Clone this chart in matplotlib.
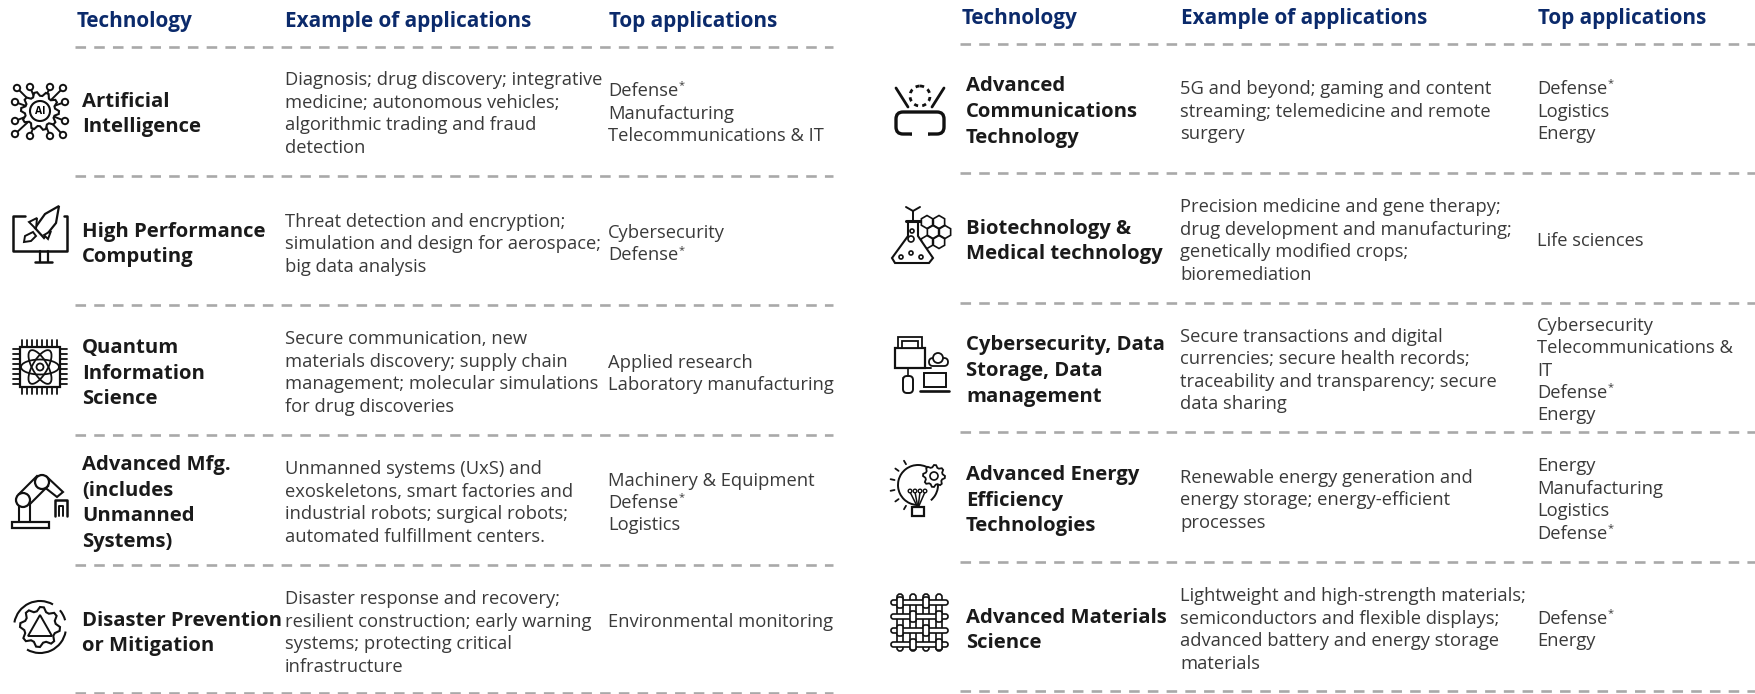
#!/usr/bin/env python3
# Two side-by-side technology tables with line icons. Everything is laid out
# in reference pixels (axes spans the whole figure, y points down).

import numpy as np
import matplotlib
matplotlib.use("Agg")
import matplotlib.pyplot as plt
from matplotlib.patches import Circle, Rectangle, FancyBboxPatch, Polygon, Arc

W, H = 1756, 694
NAVY = "#0b2a6b"
BLACK = "#1a1a1a"
BODY = "#3a3a3a"
DASH = "#a9a9a9"
FONT = "Open Sans"

HEADERS = ["Technology", "Example of applications", "Top applications"]

LEFT_TECH = [
    ["Artificial", "Intelligence"],
    ["High Performance", "Computing"],
    ["Quantum", "Information", "Science"],
    ["Advanced Mfg.", "(includes", "Unmanned", "Systems)"],
    ["Disaster Prevention", "or Mitigation"],
]
LEFT_APPS = [
    ["Diagnosis; drug discovery; integrative", "medicine; autonomous vehicles;",
     "algorithmic trading and fraud", "detection"],
    ["Threat detection and encryption;", "simulation and design for aerospace;",
     "big data analysis"],
    ["Secure communication, new", "materials discovery; supply chain",
     "management; molecular simulations", "for drug discoveries"],
    ["Unmanned systems (UxS) and", "exoskeletons, smart factories and",
     "industrial robots; surgical robots;", "automated fulfillment centers."],
    ["Disaster response and recovery;", "resilient construction; early warning",
     "systems; protecting critical", "infrastructure"],
]
LEFT_TOP = [
    ["Defense*", "Manufacturing", "Telecommunications & IT"],
    ["Cybersecurity", "Defense*"],
    ["Applied research", "Laboratory manufacturing"],
    ["Machinery & Equipment", "Defense*", "Logistics"],
    ["Environmental monitoring"],
]
LEFT_CENTERS = [112, 242, 371, 501, 631]
LEFT_TOP_CENTERS = [111.5, 242, 372, 501, 620]
LEFT_RULES = [46.5, 176, 305, 435, 564.5, 693]

RIGHT_TECH = [
    ["Advanced", "Communications", "Technology"],
    ["Biotechnology &", "Medical technology"],
    ["Cybersecurity, Data", "Storage, Data", "management"],
    ["Advanced Energy", "Efficiency", "Technologies"],
    ["Advanced Materials", "Science"],
]
RIGHT_APPS = [
    ["5G and beyond; gaming and content", "streaming; telemedicine and remote",
     "surgery"],
    ["Precision medicine and gene therapy;", "drug development and manufacturing;",
     "genetically modified crops;", "bioremediation"],
    ["Secure transactions and digital", "currencies; secure health records;",
     "traceability and transparency; secure", "data sharing"],
    ["Renewable energy generation and", "energy storage; energy-efficient",
     "processes"],
    ["Lightweight and high-strength materials;", "semiconductors and flexible displays;",
     "advanced battery and energy storage", "materials"],
]
RIGHT_TOP = [
    ["Defense*", "Logistics", "Energy"],
    ["Life sciences"],
    ["Cybersecurity", "Telecommunications &", "IT", "Defense*", "Energy"],
    ["Energy", "Manufacturing", "Logistics", "Defense*"],
    ["Defense*", "Energy"],
]
RIGHT_CENTERS = [109.5, 239, 368.5, 498, 628]
RIGHT_RULES = [43.5, 173, 303, 432, 562, 691]

fig = plt.figure(figsize=(W / 100, H / 100), dpi=100)
ax = fig.add_axes([0, 0, 1, 1])
ax.set_xlim(0, W)
ax.set_ylim(H, 0)
ax.axis("off")


def block(x, yc, lines, pitch, size, color, weight):
    y0 = yc - pitch * (len(lines) - 1) / 2
    renderer = fig.canvas.get_renderer()
    for i, line in enumerate(lines):
        star = line.endswith("*")
        txt = line[:-1] if star else line
        t = ax.text(x, y0 + i * pitch, txt, ha="left", va="center_baseline",
                    fontsize=size, color=color, fontweight=weight, family=FONT)
        if star:
            end = t.get_window_extent(renderer).x1
            ax.text(end, y0 + i * pitch - 3, "*", ha="left", va="center",
                    fontsize=size * 0.6, color=color, fontweight=weight, family=FONT)


def rules(x0, x1, ys):
    for y in ys:
        ax.plot([x0, x1], [y, y], color=DASH, lw=1.9, dashes=(4.0, 3.1),
                dash_capstyle="butt")


def line(pts, lw=1.6):
    xs, ys = zip(*pts)
    ax.plot(xs, ys, color="#111111", lw=lw, solid_capstyle="round")


def ring(x, y, r, lw=1.5, fill="white", z=3):
    ax.add_patch(Circle((x, y), r, fc=fill, ec="#111111", lw=lw, zorder=z))


def box(x, y, w, h, lw=1.5, pad=0.0, z=3):
    if pad:
        ax.add_patch(FancyBboxPatch((x, y), w, h, boxstyle=f"round,pad=0,rounding_size={pad}",
                                    fc="white", ec="#111111", lw=lw, zorder=z))
    else:
        ax.add_patch(Rectangle((x, y), w, h, fc="white", ec="#111111", lw=lw, zorder=z))


def poly(pts, lw=1.5, fill="white", z=3):
    ax.add_patch(Polygon(pts, closed=True, fc=fill, ec="#111111", lw=lw, zorder=z))


def gear(cx, cy, r, teeth=8, lw=1.5):
    a = np.linspace(0, 2 * np.pi, teeth * 4, endpoint=False)
    rr = np.where(np.arange(teeth * 4) % 4 < 2, r, r * 0.8)
    poly(list(zip(cx + rr * np.cos(a), cy + rr * np.sin(a))), lw=lw)


def icon_ai(cx, cy):
    nodes = [(-23, -23), (-10, -24), (10, -24), (23, -23), (-25, -9), (25, -9),
             (-25, 10), (25, 10), (-25, 23), (-10, 25), (10, 25), (23, 24)]
    for dx, dy in nodes:
        line([(cx + dx * 0.5, cy + dy * 0.5), (cx + dx * 0.8, cy + dy * 0.8),
              (cx + dx * 0.93, cy + dy * 0.93)], lw=1.4)
        ring(cx + dx, cy + dy, 3.2, lw=1.4)
    gear(cx, cy, 19, teeth=10)
    ring(cx, cy, 10, lw=1.5)
    ax.text(cx, cy, "AI", ha="center", va="center", fontsize=7.5, fontweight="bold", family=FONT, zorder=5)


def icon_rocket(x, y):
    line([(x + 14, y + 11), (x + 2, y + 11), (x + 2, y + 46), (x + 56, y + 46), (x + 56, y + 11), (x + 53, y + 11)], lw=1.8)
    line([(x + 29, y + 46), (x + 29, y + 57)], lw=1.6)
    line([(x + 37, y + 46), (x + 37, y + 57)], lw=1.6)
    line([(x + 24, y + 57), (x + 41, y + 57)], lw=1.8)
    poly([(x + 48, y + 1), (x + 45, y + 18), (x + 33, y + 33), (x + 24, y + 23), (x + 34, y + 9)], lw=1.6)
    poly([(x + 26, y + 13), (x + 18, y + 17), (x + 25, y + 24)], lw=1.4)
    poly([(x + 40, y + 26), (x + 37, y + 34), (x + 33, y + 30)], lw=1.4)
    poly([(x + 22, y + 27), (x + 14, y + 31), (x + 13, y + 37), (x + 20, y + 36), (x + 25, y + 31)], lw=1.4)


def icon_chip(x, y):
    box(x + 7, y + 7, 40, 40, lw=1.6)
    for i in np.arange(2, 41, 5):
        line([(x + 7 + i, y), (x + 7 + i, y + 7)], lw=1.3)
        line([(x + 7 + i, y + 47), (x + 7 + i, y + 54)], lw=1.3)
        line([(x, y + 7 + i), (x + 7, y + 7 + i)], lw=1.3)
        line([(x + 47, y + 7 + i), (x + 54, y + 7 + i)], lw=1.3)
    for ang in (0, 60, 120):
        ax.add_patch(Arc((x + 27, y + 27), 38, 15, angle=ang, color="#111111", lw=1.3, zorder=4))
    ring(x + 27, y + 27, 3.5, lw=1.3, z=5)


def icon_robot(x, y):
    box(x + 1, y + 50, 37, 6, lw=1.6)
    line([(x + 8, y + 50), (x + 8, y + 29)], lw=1.5)
    line([(x + 19, y + 50), (x + 19, y + 29)], lw=1.5)
    poly([(x + 8, y + 22), (x + 26, y + 4), (x + 37, y + 14), (x + 19, y + 32)], lw=1.5)
    ring(x + 12, y + 28, 7, lw=1.6, z=4)
    ring(x + 31, y + 10, 7, lw=1.6, z=4)
    poly([(x + 36, y + 5), (x + 52, y + 20), (x + 46, y + 25), (x + 32, y + 14)], lw=1.5, z=2)
    line([(x + 44, y + 44), (x + 44, y + 28), (x + 56, y + 28), (x + 56, y + 44)], lw=1.8)
    line([(x + 48, y + 44), (x + 48, y + 34), (x + 52, y + 34), (x + 52, y + 44)], lw=1.4)


def icon_disaster(cx, cy):
    ax.add_patch(Arc((cx, cy), 52, 52, theta1=190, theta2=300, color="#111111", lw=1.5))
    ax.add_patch(Arc((cx, cy), 52, 52, theta1=10, theta2=120, color="#111111", lw=1.5))
    ax.add_patch(Arc((cx, cy), 52, 52, theta1=-40, theta2=-15, color="#111111", lw=1.5))
    gear(cx, cy, 20, teeth=8)
    poly([(cx, cy - 12), (cx + 12, cy + 9), (cx - 12, cy + 9)], lw=1.4)
    line([(cx, cy - 5), (cx, cy + 3)], lw=1.7)
    line([(cx, cy + 6), (cx, cy + 6.5)], lw=1.7)


def icon_vr(cx, cy):
    box(cx - 24, cy + 2, 48, 22, lw=2.4, pad=7)
    box(cx - 8, cy + 20, 16, 6, lw=0, z=4)
    line([(cx - 9, cy + 24), (cx, cy + 20), (cx + 9, cy + 24)], lw=2.2)
    line([(cx + 12, cy + 7), (cx + 16, cy + 10), (cx + 14, cy + 14)], lw=1.8)
    ax.add_patch(Circle((cx, cy - 14), 10, fc="none", ec="#111111", lw=2.0, ls=(0, (1.5, 1.5))))
    line([(cx - 24, cy - 22), (cx - 12, cy - 3)], lw=2.0)
    line([(cx + 24, cy - 22), (cx + 12, cy - 3)], lw=2.0)


def icon_flask(x, y):
    for i, j in [(0, 0), (12, 0), (6, 10), (18, 10), (0, 20), (12, 20)]:
        a = np.linspace(0, 2 * np.pi, 6, endpoint=False) + np.pi / 6
        poly(list(zip(x + 36 + i + 6.5 * np.cos(a), y + 16 + j + 6.5 * np.sin(a))), lw=1.2, fill="none")
    poly([(x + 17, y + 16), (x + 27, y + 16), (x + 27, y + 30), (x + 42, y + 52), (x + 38, y + 57),
          (x + 4, y + 57), (x + 1, y + 52), (x + 17, y + 30)], lw=1.5, z=4)
    line([(x + 15, y + 15), (x + 29, y + 15)], lw=2.2)
    line([(x + 22, y + 15), (x + 22, y + 5), (x + 15, y + 1)], lw=1.4)
    line([(x + 22, y + 5), (x + 29, y + 1)], lw=1.4)
    for dx, dy, r in [(21, 25, 2), (20, 33, 3), (10, 51, 2), (20, 47, 2), (30, 51, 2)]:
        ring(x + dx, y + dy, r, lw=1.2, z=5)


def icon_folder(x, y):
    box(x + 2, y + 12, 30, 20, lw=1.6)
    box(x + 5, y + 1, 24, 11, lw=1.3)
    box(x + 9, y + 5, 16, 7, lw=1.3)
    line([(x + 15, y + 32), (x + 15, y + 42), (x + 10, y + 42)], lw=1.2)
    box(x + 10, y + 40, 10, 17, lw=1.4, pad=4)
    box(x + 31, y + 37, 22, 14, lw=1.4)
    line([(x + 27, y + 55), (x + 56, y + 55)], lw=1.9)
    line([(x + 36, y + 44), (x + 41, y + 48), (x + 47, y + 41)], lw=1.4)
    box(x + 36, y + 22, 19, 8, lw=1.3, pad=4)
    ring(x + 45, y + 22, 5, lw=1.3, z=4)
    line([(x + 32, y + 32), (x + 38, y + 32)], lw=1.4)


def icon_bulb(cx, cy):
    ax.add_patch(Arc((cx - 3, cy - 3), 40, 40, theta1=95, theta2=410, color="#111111", lw=1.4))
    for a in np.radians(np.arange(120, 260, 24)):
        line([(cx - 3 + 24 * np.cos(a), cy - 3 - 24 * np.sin(a)),
              (cx - 3 + 28 * np.cos(a), cy - 3 - 28 * np.sin(a))], lw=1.3)
    gear(cx + 13, cy - 12, 11, teeth=8, lw=1.3)
    ring(cx + 13, cy - 12, 4, lw=1.2, z=4)
    for dx in (-8, -3, 2, 7):
        line([(cx - 3, cy + 20), (cx - 3 + dx, cy + 4)], lw=1.1)
        ring(cx - 3 + dx, cy + 3, 1.8, lw=1.0)
    box(cx - 9, cy + 19, 12, 9, lw=1.6)


def icon_weave(x, y):
    for i in (9, 22, 35, 48):
        box(x + i - 3, y, 6, 57, lw=1.2, pad=3, z=2)
    for r, j in enumerate((6, 20, 34, 48)):
        box(x, y + j, 57, 5, lw=1.2, pad=2.4, z=3)
        for c, i in enumerate((9, 22, 35, 48)):
            if (r + c) % 2 == 0:
                box(x + i - 3, y + j - 3, 6, 11, lw=1.2, pad=2, z=4)


block(77, 19, HEADERS[:1], 0, 14.95, NAVY, "bold")
block(285, 19, HEADERS[1:2], 0, 14.95, NAVY, "bold")
block(609, 19, HEADERS[2:], 0, 14.95, NAVY, "bold")
block(962, 16, HEADERS[:1], 0, 14.95, NAVY, "bold")
block(1181, 16, HEADERS[1:2], 0, 14.95, NAVY, "bold")
block(1538, 16, HEADERS[2:], 0, 14.95, NAVY, "bold")

rules(75, 833, LEFT_RULES)
rules(960, 1756, RIGHT_RULES)

for i in range(5):
    block(82, LEFT_CENTERS[i], LEFT_TECH[i], 25.6, 14.6, BLACK, "bold")
    block(285, LEFT_CENTERS[i], LEFT_APPS[i], 22.5, 13.25, BODY, "normal")
    block(608, LEFT_TOP_CENTERS[i], LEFT_TOP[i], 22.4, 13.25, BODY, "normal")
    block(966, RIGHT_CENTERS[i], RIGHT_TECH[i], 25.6, 14.6, BLACK, "bold")
    block(1180, RIGHT_CENTERS[i], RIGHT_APPS[i], 22.5, 13.25, BODY, "normal")
    block(1537, RIGHT_CENTERS[i], RIGHT_TOP[i], 22.4, 13.25, BODY, "normal")

icon_ai(40, 111)
icon_rocket(11, 205)
icon_chip(13, 340)
icon_robot(11, 472)
icon_disaster(40, 627)
icon_vr(920, 110)
icon_flask(891, 206)
icon_folder(893, 336)
icon_bulb(921, 488)
icon_weave(891, 594)

fig.savefig("out.png", dpi=100)
